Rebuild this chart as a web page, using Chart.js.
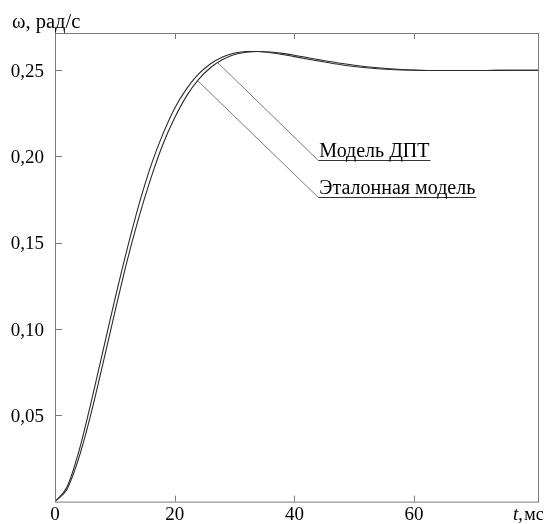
<!DOCTYPE html>
<html lang="ru">
<head>
    <meta charset="UTF-8">
    <meta name="viewport" content="width=device-width, initial-scale=1.0">
    <title>Переходный процесс ω(t)</title>
    <style>
        html, body { margin: 0; padding: 0; background: #fff; }
    </style>
</head>
<body>
    <div>
        <canvas id="myChart" width="545" height="524"></canvas>
    </div>

    <script src="https://cdn.jsdelivr.net/npm/chart.js"></script>

    <script>
    // время, мс
    var times = [0, 2, 4, 6, 8, 10, 12, 14, 16, 18, 20, 22, 24, 26, 28, 30, 32, 34, 36, 38, 40,
                 44, 48, 52, 56, 60, 64, 68, 72, 76, 81];
    // ω, рад/с — эталонная модель (левая кривая)
    var etalon = [0, 0.0084, 0.0292, 0.0570, 0.0870, 0.1171, 0.1455, 0.1716, 0.1942, 0.2126, 0.2278,
                  0.2391, 0.2476, 0.2535, 0.2574, 0.2597, 0.2606, 0.2606, 0.2599, 0.2589, 0.2576,
                  0.2551, 0.2528, 0.2512, 0.2502, 0.2497, 0.2496, 0.2496, 0.2496, 0.2497, 0.2497];
    // ω, рад/с — модель ДПТ (правая кривая)
    var dpt = [0, 0.0072, 0.0255, 0.0506, 0.0798, 0.1097, 0.1387, 0.1644, 0.1870, 0.2066, 0.2222,
               0.2349, 0.2444, 0.2513, 0.2560, 0.2589, 0.2602, 0.2606, 0.2603, 0.2595, 0.2584,
               0.2559, 0.2536, 0.2518, 0.2506, 0.2499, 0.2496, 0.2496, 0.2496, 0.2497, 0.2497];

    var xTicks = [0, 20, 40, 60];
    var yTicks = [0.05, 0.10, 0.15, 0.20, 0.25];

    // подписи кривых: точка на кривой и начало подчёркивания (в единицах осей)
    var noteLabels = ['Модель ДПТ', 'Эталонная модель'];
    var noteCurvePts = [[27.2, 0.2541], [23.95, 0.2433]];
    var noteTextPts = [[44.0, 0.1977], [44.0, 0.1764]];

    const serif = "'Liberation Serif', 'Times New Roman', serif";
    Chart.defaults.font.family = serif;
    Chart.defaults.color = '#000';

    function line(ctx, x1, y1, x2, y2) {
        ctx.beginPath();
        ctx.moveTo(x1, y1);
        ctx.lineTo(x2, y2);
        ctx.stroke();
    }

    // рамка, внутренние засечки, подписи осей и выноски
    const decor = {
        id: 'decor',
        afterDatasetsDraw(chart) {
            const ctx = chart.ctx;
            const a = chart.chartArea;
            const x = chart.scales.x, y = chart.scales.y;
            ctx.save();

            ctx.strokeStyle = '#7a7a7a';
            ctx.lineWidth = 1;
            ctx.strokeRect(a.left + 0.5, a.top + 0.5, a.right - a.left, a.bottom - a.top);

            yTicks.forEach(v => {
                let py = Math.round(y.getPixelForValue(v)) + 0.5;
                line(ctx, a.left, py, a.left + 7, py);
            });
            xTicks.slice(1).forEach(v => {
                let px = Math.round(x.getPixelForValue(v)) + 0.5;
                line(ctx, px, a.bottom, px, a.bottom - 6);
                line(ctx, px, a.top, px, a.top + 6);
            });

            // выноски
            ctx.font = '20px ' + serif;
            ctx.fillStyle = '#000';
            ctx.textBaseline = 'alphabetic';
            noteLabels.forEach((txt, i) => {
                let cx = x.getPixelForValue(noteCurvePts[i][0]);
                let cy = y.getPixelForValue(noteCurvePts[i][1]);
                let tx = x.getPixelForValue(noteTextPts[i][0]);
                let ty = Math.round(y.getPixelForValue(noteTextPts[i][1])) + 0.5;
                let w = ctx.measureText(txt).width;
                ctx.strokeStyle = '#777';
                line(ctx, cx, cy, tx, ty);
                ctx.strokeStyle = '#333';
                line(ctx, tx, ty, tx + w + 2, ty);
                ctx.fillText(txt, tx + 1, ty - 4);
            });

            // подписи осей
            ctx.font = '20.5px ' + serif;
            ctx.textAlign = 'left';
            ctx.fillText('ω, рад/с', 12, 28);

            let bx = a.right - 25, by = a.bottom + 18;
            ctx.font = 'italic 19px ' + serif;
            ctx.fillText('t', bx, by);
            let tw = ctx.measureText('t').width;
            ctx.font = '18px ' + serif;
            ctx.fillText(',', bx + tw, by);
            ctx.fillText('мс', bx + tw + 6, by);

            ctx.restore();
        }
    };

    function makeChart() {
        const ctx = document.getElementById('myChart');
        new Chart(ctx, {
            type: 'line',
            data: {
                datasets: [{
                    label: 'Эталонная модель',
                    data: times.map((t, i) => ({ x: t, y: etalon[i] })),
                    borderColor: '#2a2a2a',
                    borderWidth: 1.1,
                    pointRadius: 0,
                    cubicInterpolationMode: 'monotone'
                }, {
                    label: 'Модель ДПТ',
                    data: times.map((t, i) => ({ x: t, y: dpt[i] })),
                    borderColor: '#2a2a2a',
                    borderWidth: 1.1,
                    pointRadius: 0,
                    cubicInterpolationMode: 'monotone'
                }]
            },
            options: {
                responsive: false,
                animation: false,
                layout: { padding: { top: 33, right: 7, left: 0, bottom: 0 } },
                plugins: { legend: { display: false }, tooltip: { enabled: false } },
                scales: {
                    x: {
                        type: 'linear',
                        min: 0,
                        max: 80.7,
                        grid: { display: false, drawTicks: false, tickLength: 0 },
                        border: { display: false },
                        afterBuildTicks: s => { s.ticks = xTicks.map(v => ({ value: v })); },
                        afterFit: s => { s.height = 19; },
                        ticks: {
                            font: { size: 19 },
                            padding: 2,
                            maxRotation: 0,
                            autoSkip: false,
                            callback: v => String(v)
                        }
                    },
                    y: {
                        min: 0,
                        max: 0.2713,
                        grid: { display: false, drawTicks: false, tickLength: 0 },
                        border: { display: false },
                        afterBuildTicks: s => { s.ticks = yTicks.map(v => ({ value: v })); },
                        afterFit: s => { s.width = 55; },
                        ticks: {
                            font: { size: 19 },
                            padding: 11,
                            labelOffset: 2,
                            autoSkip: false,
                            callback: v => v.toFixed(2).replace('.', ',')
                        }
                    }
                }
            },
            plugins: [decor]
        });
    }

    makeChart();
    </script>
</body>
</html>
